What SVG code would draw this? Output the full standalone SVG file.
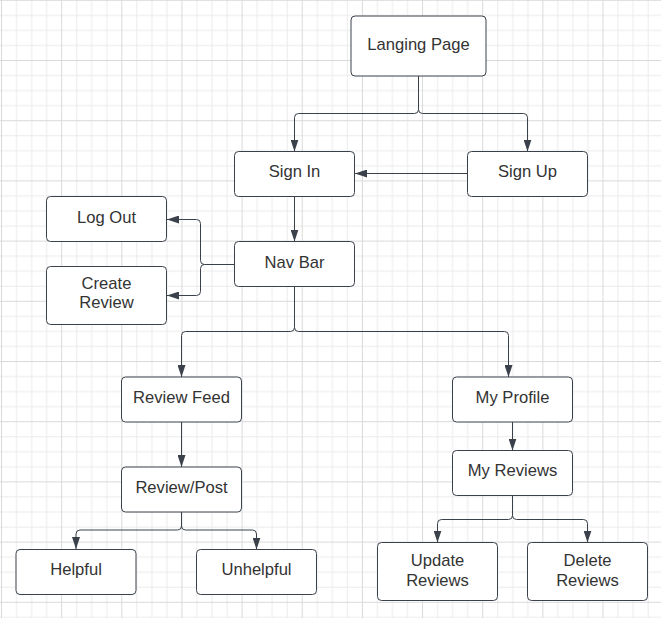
<svg xmlns="http://www.w3.org/2000/svg" width="661" height="618" viewBox="0 0 661 618">
<defs>
<pattern id="grid" x="1" y="-0.2" width="60.15" height="60.2" patternUnits="userSpaceOnUse">
<path d="M15.54 0V60.2M30.58 0V60.2M45.62 0V60.2M0 15.55H60.15M0 30.6H60.15M0 45.65H60.15" stroke="#ebebeb" stroke-width="1" fill="none"/>
<path d="M0.5 0V60.2M0 0.5H60.15" stroke="#d9d9d9" stroke-width="1" fill="none"/>
</pattern>
<marker id="arr" viewBox="0 0 12 8" refX="12" refY="4" markerWidth="12" markerHeight="8" markerUnits="userSpaceOnUse" orient="auto">
<path d="M0 0L12 4L0 8Z" fill="#3a414a"/>
</marker>
<style>
.box{fill:#fff;stroke:#3a414a;stroke-width:1}
.t{font-family:"Liberation Sans",Arial,sans-serif;font-size:16.6px;fill:#333;text-anchor:middle}
.c{fill:none;stroke:#3a414a;stroke-width:1}
</style>
</defs>
<rect width="661" height="618" fill="#fff"/>
<rect width="661" height="618" fill="url(#grid)"/>
<g id="connectors">
<path class="c" d="M418.5 76V109.5Q418.5 113.5 414.5 113.5H298.5Q294.5 113.5 294.5 117.5V151.5" marker-end="url(#arr)"/>
<path class="c" d="M418.5 109.5Q418.5 113.5 422.5 113.5H523.5Q527.5 113.5 527.5 117.5V151.5" marker-end="url(#arr)"/>
<path class="c" d="M467.5 173.5H355" marker-end="url(#arr)"/>
<path class="c" d="M294.5 196.5V241.5" marker-end="url(#arr)"/>
<path class="c" d="M234.5 264.5H204.5Q200.5 264.5 200.5 260.5V223.5Q200.5 219.5 196.5 219.5H167" marker-end="url(#arr)"/>
<path class="c" d="M204.5 264.5Q200.5 264.5 200.5 268.5V291.5Q200.5 295.5 196.5 295.5H167" marker-end="url(#arr)"/>
<path class="c" d="M294.5 286.5V327.5Q294.5 331.5 290.5 331.5H185.5Q181.5 331.5 181.5 335.5V377" marker-end="url(#arr)"/>
<path class="c" d="M294.5 327.5Q294.5 331.5 298.5 331.5H504.5Q508.5 331.5 508.5 335.5V377" marker-end="url(#arr)"/>
<path class="c" d="M181.5 422V467" marker-end="url(#arr)"/>
<path class="c" d="M512.5 422V450.5" marker-end="url(#arr)"/>
<path class="c" d="M181.5 512V526Q181.5 530 177.5 530H80Q76 530 76 534V549" marker-end="url(#arr)"/>
<path class="c" d="M181.5 526Q181.5 530 185.5 530H252.5Q256.5 530 256.5 534V549.5" marker-end="url(#arr)"/>
<path class="c" d="M512.5 495.5V515.5Q512.5 519.5 508.5 519.5H441.5Q437.5 519.5 437.5 523.5V542.5" marker-end="url(#arr)"/>
<path class="c" d="M512.5 515.5Q512.5 519.5 516.5 519.5H583.5Q587.5 519.5 587.5 523.5V542.5" marker-end="url(#arr)"/>
</g>
<g id="landing"><rect class="box" x="351" y="16" width="135" height="60" rx="4"/><text class="t" x="418.5" y="49.5">Langing Page</text></g>
<g id="signin"><rect class="box" x="234.5" y="151.5" width="120" height="45" rx="4"/><text class="t" x="294.5" y="177.3">Sign In</text></g>
<g id="signup"><rect class="box" x="467.5" y="151.5" width="120" height="45" rx="4"/><text class="t" x="527.5" y="177.3">Sign Up</text></g>
<g id="navbar"><rect class="box" x="234.5" y="241.5" width="120" height="45" rx="4"/><text class="t" x="294.5" y="267.5">Nav Bar</text></g>
<g id="logout"><rect class="box" x="46.5" y="196.5" width="120" height="45" rx="4"/><text class="t" x="106.5" y="222.5">Log Out</text></g>
<g id="createreview"><rect class="box" x="46.5" y="266.5" width="120" height="58" rx="4"/><text class="t" x="106.5" y="289">Create</text><text class="t" x="106.5" y="308.3">Review</text></g>
<g id="reviewfeed"><rect class="box" x="121.5" y="377" width="120" height="45" rx="4"/><text class="t" x="181.5" y="402.5">Review Feed</text></g>
<g id="reviewpost"><rect class="box" x="121.5" y="467" width="120" height="45" rx="4"/><text class="t" x="181.5" y="492.5">Review/Post</text></g>
<g id="myprofile"><rect class="box" x="452.5" y="377" width="120" height="45" rx="4"/><text class="t" x="512.5" y="402.5">My Profile</text></g>
<g id="myreviews"><rect class="box" x="452.5" y="450.5" width="120" height="45" rx="4"/><text class="t" x="512.5" y="476">My Reviews</text></g>
<g id="helpful"><rect class="box" x="16" y="549.5" width="120" height="45" rx="4"/><text class="t" x="76" y="575.3">Helpful</text></g>
<g id="unhelpful"><rect class="box" x="196.5" y="549.5" width="120" height="45" rx="4"/><text class="t" x="256.5" y="575.3">Unhelpful</text></g>
<g id="updatereviews"><rect class="box" x="377.5" y="542.5" width="120" height="58" rx="4"/><text class="t" x="437.5" y="565.5">Update</text><text class="t" x="437.5" y="585.5">Reviews</text></g>
<g id="deletereviews"><rect class="box" x="527.5" y="542.5" width="120" height="58" rx="4"/><text class="t" x="587.5" y="565.5">Delete</text><text class="t" x="587.5" y="585.5">Reviews</text></g>
</svg>
